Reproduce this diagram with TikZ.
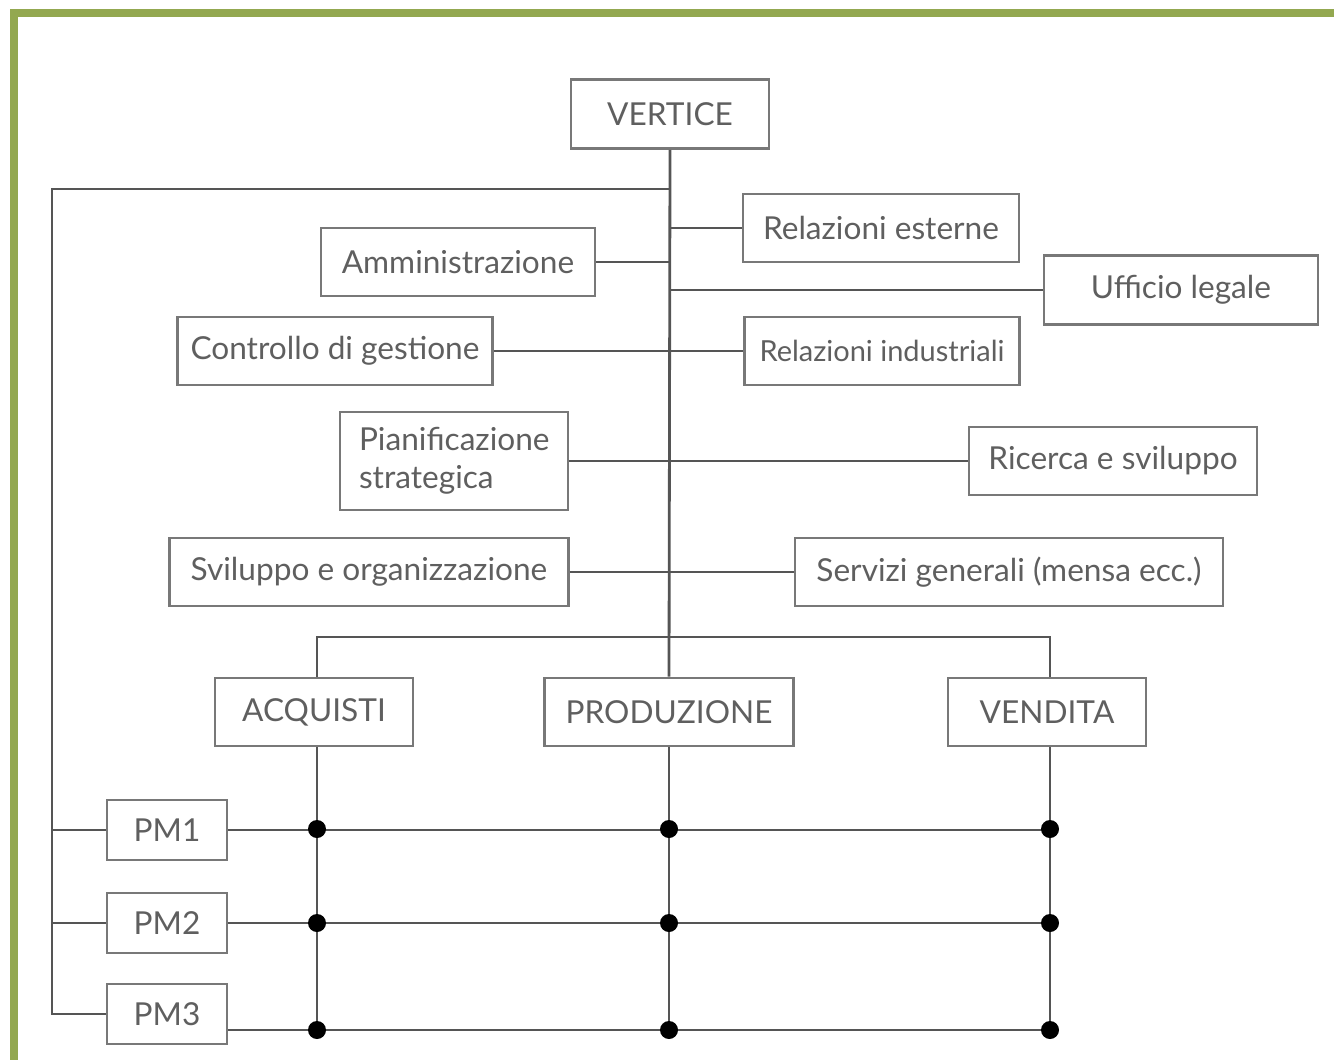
\documentclass[tikz,border=0pt]{standalone}
\usepackage{fontspec}
\setmainfont{Lato}
\usepackage{tikz}
\usetikzlibrary{calc}
\definecolor{framegreen}{RGB}{147,168,80}
\definecolor{linegray}{RGB}{85,85,85}
\definecolor{boxgray}{RGB}{120,120,120}
\definecolor{textgray}{RGB}{95,95,95}
\tikzset{
	box/.style = {draw=boxgray, line width=1.6pt, minimum height=1.36cm, inner sep=0pt,
		text=textgray, font=\fontsize{18}{21.5}\selectfont},
	link/.style = {draw=linegray, line width=1.6pt},
	knot/.style = {circle, fill=black, inner sep=0pt, minimum size=0.36cm}
}
\begin{document}
\begin{tikzpicture}[x=0.02cm, y=-0.02cm]
	\useasboundingbox (0,0) rectangle (1334,1059);
	\draw[framegreen, line width=4pt] (14,13) rectangle (1400,1120);
	% vertice e staff
	\node[box, minimum width=3.96cm, minimum height=1.38cm] (vertice) at (670,114) {VERTICE};
	\node[box, minimum width=5.52cm] (relest) at (881,228) {Relazioni esterne};
	\node[box, minimum width=5.48cm] (amm) at (458,262) {Amministrazione};
	\node[box, minimum width=5.48cm, minimum height=1.38cm] (uff) at (1181,290) {Ufficio legale};
	\node[box, minimum width=6.3cm] (ctrl) at (335,351) {Controllo di gestione};
	\node[box, minimum width=5.5cm, font=\fontsize{16.5}{20}\selectfont] (relind) at (882,351) {Relazioni industriali};
	\node[box, minimum width=4.56cm, minimum height=1.96cm, align=left, text width=3.8cm] (pian) at (454,461) {Pianificazione\\strategica};
	\node[box, minimum width=5.76cm] (ric) at (1113,461) {Ricerca e sviluppo};
	\node[box, minimum width=7.98cm] (svil) at (369,572) {Sviluppo e organizzazione};
	\node[box, minimum width=8.56cm] (serv) at (1009,572) {Servizi generali (mensa ecc.)};
	% linea
	\node[box, minimum width=3.96cm] (acq) at (314,712) {ACQUISTI};
	\node[box, minimum width=4.98cm] (prod) at (669,712) {PRODUZIONE};
	\node[box, minimum width=3.96cm] (vend) at (1047,712) {VENDITA};
	% project manager
	\node[box, minimum width=2.4cm, minimum height=1.2cm] (pm1) at (167,830) {PM1};
	\node[box, minimum width=2.4cm, minimum height=1.2cm] (pm2) at (167,923) {PM2};
	\node[box, minimum width=2.4cm, minimum height=1.2cm] (pm3) at (167,1014) {PM3};
	\coordinate (top) at (669,189);
	\coordinate (corner) at (52,189);
	\coordinate (bar) at (669,637);
	\coordinate (end3) at (1050,1030);
	% connettori
	\draw[link] (vertice.south) -- (prod.north);
	\draw[link] (top) -- (corner) -- (corner |- pm3.west) -- (pm3.west);
	\draw[link] (corner |- pm1.west) -- (pm1.west);
	\draw[link] (corner |- pm2.west) -- (pm2.west);
	\draw[link] (relest.west) -- (relest.west -| top);
	\draw[link] (amm.east) -- (amm.east -| top);
	\draw[link] (uff.west) -- (uff.west -| top);
	\draw[link] (ctrl.east) -- (relind.west);
	\draw[link] (pian.east) -- (ric.west);
	\draw[link] (svil.east) -- (serv.west);
	\draw[link] (acq.north -| 317,0) |- (bar) -| (vend.north -| 1050,0);
	\draw[link] (acq.south -| 317,0) -- (317,1030);
	\draw[link] (prod.south) -- (669,1030);
	\draw[link] (vend.south -| 1050,0) -- (end3);
	\draw[link] (pm1.east) -- (pm1.east -| end3);
	\draw[link] (pm2.east) -- (pm2.east -| end3);
	\draw[link] (pm3.east |- end3) -- (end3);
	% nodi
	\foreach \y in {829,923,1030}
		\foreach \x in {317,669,1050}
			\node[knot] at (\x,\y) {};
\end{tikzpicture}
\end{document}
